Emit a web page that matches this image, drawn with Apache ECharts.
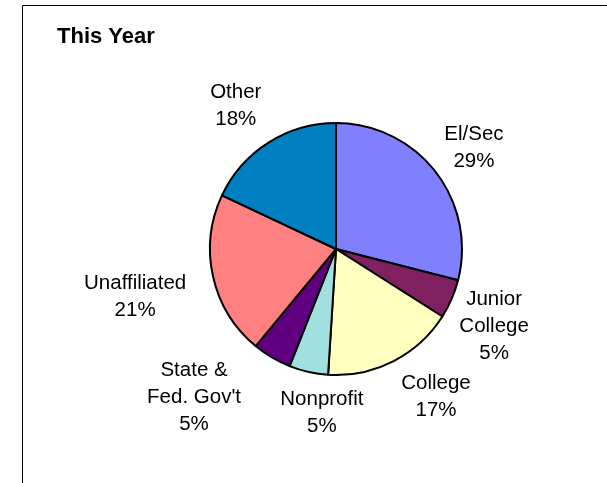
<!DOCTYPE html>
<html>
<head>
<meta charset="utf-8">
<script src="https://cdn.jsdelivr.net/npm/echarts@6/dist/echarts.min.js"></script>
<style>
  html, body { margin: 0; padding: 0; background: #fff; }
  #chart { width: 607px; height: 483px; }
</style>
</head>
<body>
<div id="chart"></div>
<script>
// Share of members by affiliation, this year
const categories = ['El/Sec', 'Junior\nCollege', 'College', 'Nonprofit', 'State &\nFed. Gov\'t', 'Unaffiliated', 'Other'];
const shares = [29, 5, 17, 5, 5, 21, 18];
const sliceColors = ['#8080ff', '#802060', '#ffffc0', '#a0e0e0', '#600080', '#ff8080', '#0080c0'];

// Label placement around the pie: direction (degrees clockwise from 12 o'clock)
// and distance of the label block centre from the pie centre
const labelAngle = [53.3, 115.4, 145.6, 185.0, 224.1, 257.2, 325.3];
const labelDistance = [172, 175, 177, 162, 204, 206, 176];

const CX = 336, CY = 249, R = 126;
const LABEL_DROP = 2;

const chart = echarts.init(document.getElementById('chart'), null, { renderer: 'canvas' });

chart.setOption({
  backgroundColor: '#ffffff',
  animation: false,
  title: {
    text: 'This Year',
    left: 52,
    top: 21,
    textStyle: { fontFamily: 'Liberation Sans, Arial, sans-serif', fontWeight: 'bold', fontSize: 22, color: '#000' }
  },
  graphic: [{
    type: 'polyline',
    silent: true,
    shape: { points: [[22.5, 483], [22.5, 5.5], [607, 5.5]] },
    style: { stroke: '#000', lineWidth: 1, fill: null }
  }],
  series: [{
    type: 'pie',
    center: [CX, CY],
    radius: R,
    startAngle: 90,
    clockwise: true,
    data: categories.map((name, i) => ({
      name: name,
      value: shares[i],
      itemStyle: { color: sliceColors[i] }
    })),
    itemStyle: { borderColor: '#000', borderWidth: 2 },
    label: {
      show: true,
      position: 'outside',
      formatter: p => p.name + '\n' + p.value + '%',
      fontFamily: 'Liberation Sans, Arial, sans-serif',
      fontSize: 20.5,
      lineHeight: 27,
      color: '#000',
      align: 'center'
    },
    labelLine: { show: false },
    labelLayout: function (params) {
      const i = params.dataIndex;
      const a = labelAngle[i] * Math.PI / 180;
      const d = labelDistance[i];
      return {
        x: CX + d * Math.sin(a),
        y: CY - d * Math.cos(a) + LABEL_DROP,
        align: 'center',
        verticalAlign: 'middle'
      };
    },
    emphasis: { disabled: true }
  }]
});
</script>
</body>
</html>
